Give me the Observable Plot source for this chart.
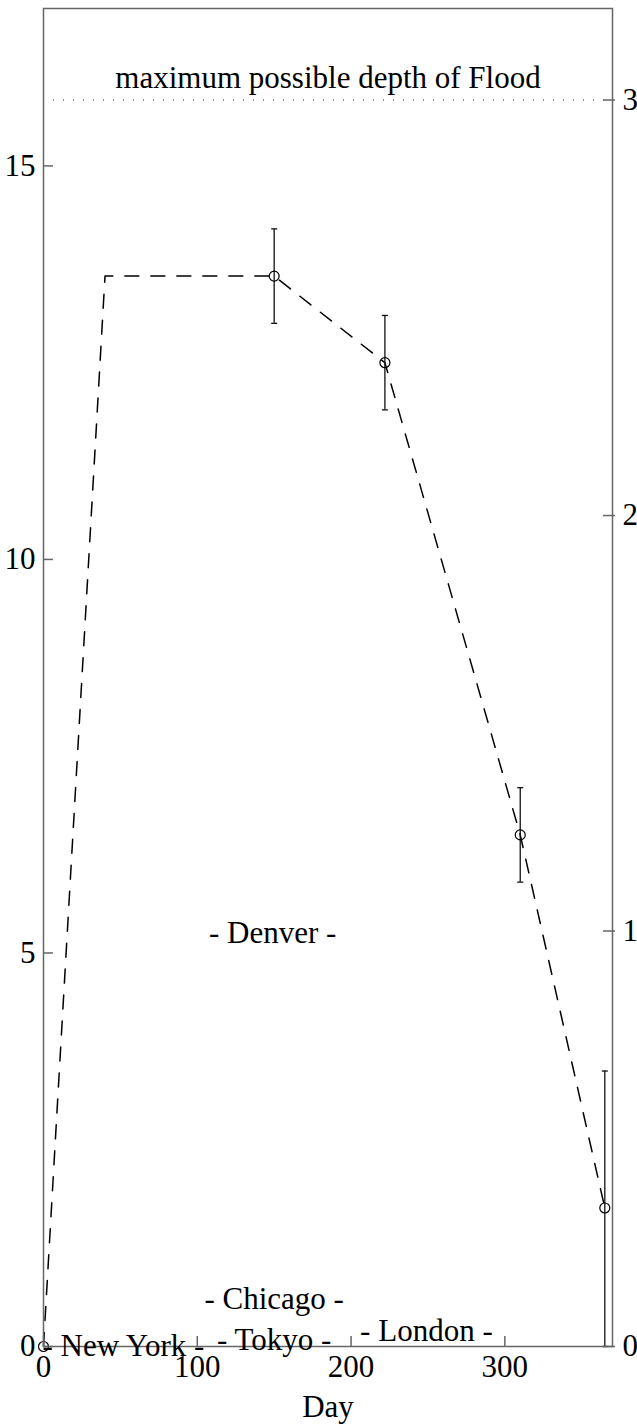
<!DOCTYPE html>
<html>
<head>
<meta charset="utf-8">
<script src="https://cdn.jsdelivr.net/npm/d3@7"></script>
<script src="https://cdn.jsdelivr.net/npm/@observablehq/plot@0.6"></script>
<style>
  html, body { margin: 0; padding: 0; background: #fff; }
  #chart svg, #chart svg text { font-family: "Liberation Serif", "DejaVu Serif", serif !important; }
</style>
</head>
<body>
<div id="chart"></div>
<script>
// Dashed model line (day, depth)
const lineDays  = [0, 40, 150, 222, 310, 365];
const lineDepth = [0, 13.6, 13.6, 12.5, 6.5, 1.76];

// Observations with error bars
const obsDays  = [0, 150, 222, 310, 365];
const obsDepth = [0, 13.6, 12.5, 6.5, 1.76];
const obsLow   = [0, 13.0, 11.9, 5.9, 0];
const obsHigh  = [0, 14.2, 13.1, 7.1, 3.5];

// City labels
const cityNames = ["- New York -", "- Tokyo -", "- London -", "- Chicago -", "- Denver -"];
const cityDays  = [52, 150, 249, 150, 149];
const cityDepth = [0, 0.08, 0.2, 0.6, 5.25];

// Axis ticks
const xTicks = [0, 100, 200, 300];
const yTicks = [0, 5, 10, 15];
const rightTicks = [0, 1, 2, 3];
const rightFactor = 5.279; // left units per right unit

const maxDepth = 3 * rightFactor;
const maxLabel = "maximum possible depth of Flood";
const xLabel = "Day";

const obs = obsDays.map((d, i) => ({day: d, depth: obsDepth[i], lo: obsLow[i], hi: obsHigh[i]}));
const line = lineDays.map((d, i) => ({day: d, depth: lineDepth[i]}));
const cities = cityNames.map((n, i) => ({name: n, day: cityDays[i], depth: cityDepth[i]}));

const W = 637, H = 1428;
const mL = 43, mR = 25, mT = 8, mB = 82;
const pw = W - mL - mR, ph = H - mT - mB;

const cap = {draw(ctx, size) { const r = Math.sqrt(size / Math.PI); ctx.moveTo(-r, 0); ctx.lineTo(r, 0); }};

const font = "'Liberation Serif', 'DejaVu Serif', serif";
const fs = 31;
const frameColor = "#666";

const chart = Plot.plot({
  width: W, height: H,
  marginLeft: mL, marginRight: mR, marginTop: mT, marginBottom: mB,
  style: {fontFamily: font, fontSize: fs + "px", background: "#fff", color: "#000"},
  x: {domain: [0, 370]},
  y: {domain: [0, 17]},
  marks: [
    // max depth dotted line
    Plot.ruleY([maxDepth], {stroke: "#222", strokeWidth: 1, strokeDasharray: "1,9"}),
    Plot.text([maxLabel], {x: 185, y: maxDepth, dy: -22, text: d => d, fontSize: fs, fontFamily: font, fill: "#000"}),
    // dashed line
    Plot.line(line, {x: "day", y: "depth", stroke: "#000", strokeWidth: 1.5, strokeDasharray: "14,12"}),
    // error bars
    Plot.ruleX(obs.filter(d => d.hi > d.lo), {x: "day", y1: "lo", y2: "hi", stroke: "#111", strokeWidth: 1.3}),
    Plot.dot(obs.filter(d => d.hi > d.lo), {x: "day", y: "lo", symbol: cap, r: 3, stroke: "#111", strokeWidth: 1.3}),
    Plot.dot(obs.filter(d => d.hi > d.lo), {x: "day", y: "hi", symbol: cap, r: 3, stroke: "#111", strokeWidth: 1.3}),
    // observation circles
    Plot.dot(obs, {x: "day", y: "depth", r: 5, stroke: "#000", fill: "none", strokeWidth: 1.2}),
    // frame
    Plot.frame({stroke: frameColor, strokeWidth: 1.5}),
    // inward ticks
    Plot.tickY(yTicks, {y: d => d, insetRight: pw - 10, stroke: frameColor, strokeWidth: 1.5}),
    Plot.tickY(rightTicks.map(r => r * rightFactor), {y: d => d, insetLeft: pw - 9, insetRight: -3, stroke: frameColor, strokeWidth: 1.5}),
    Plot.tickX(xTicks, {x: d => d, insetTop: ph - 10, stroke: frameColor, strokeWidth: 1.5}),
    // axes labels
    Plot.axisY({ticks: yTicks, tickSize: 0, tickPadding: 8, label: null, fontSize: fs, fontFamily: font}),
    Plot.axisY({anchor: "right", ticks: rightTicks.map(r => r * rightFactor), tickFormat: d => String(Math.round(d / rightFactor)), tickSize: 0, tickPadding: 10, label: null, fontSize: fs, fontFamily: font}),
    Plot.axisX({ticks: xTicks, tickSize: 0, tickPadding: 8, label: null, fontSize: fs, fontFamily: font}),
    Plot.text([xLabel], {frameAnchor: "bottom", text: d => d, dy: 70, fontSize: fs, fontFamily: font, fill: "#000"}),
    // city labels
    Plot.text(cities, {x: "day", y: "depth", text: "name", fontSize: fs, fontFamily: font, fill: "#000"})
  ]
});
document.getElementById("chart").appendChild(chart);
</script>
</body>
</html>
